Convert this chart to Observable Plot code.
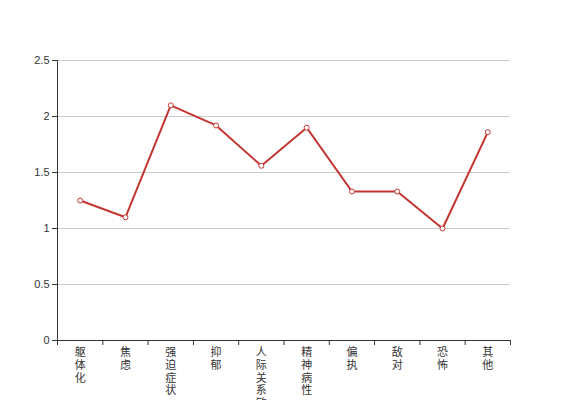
<!DOCTYPE html>
<html>
<head>
<meta charset="utf-8">
<script src="https://cdn.jsdelivr.net/npm/d3@7"></script>
<script src="https://cdn.jsdelivr.net/npm/@observablehq/plot@0.6"></script>
<style>
  html, body { margin: 0; padding: 0; background: #fff; }
  svg { font-family: "Liberation Sans", Arial, sans-serif; }
</style>
</head>
<body>
<div id="chart"></div>
<script>
const categories = ["躯体化", "焦虑", "强迫症状", "抑郁", "人际关系敏感", "精神病性", "偏执", "敌对", "恐怖", "其他"];
const values = [1.25, 1.1, 2.1, 1.92, 1.56, 1.9, 1.33, 1.33, 1.0, 1.86];
const yTicks = [0, 0.5, 1, 1.5, 2, 2.5];

const rows = categories.map((c, i) => ({cat: c, value: values[i], pos: i + 0.5}));
const boundaries = d3.range(categories.length + 1);

const color = "#c23531";

const chart = Plot.plot({
  width: 567,
  height: 400,
  marginLeft: 57,
  marginRight: 57,
  marginTop: 60,
  marginBottom: 60,
  style: {fontFamily: "'Liberation Sans', Arial, sans-serif", background: "#fff", overflow: "visible"},
  x: {domain: [0, categories.length], axis: null},
  y: {domain: [0, 2.5], axis: null},
  marks: [
    Plot.gridY(yTicks.filter(d => d > 0), {stroke: "#ccc", strokeOpacity: 1, strokeWidth: 1}),
    Plot.axisY(yTicks, {label: null, tickSize: 5, tickPadding: 3, fontSize: 11, color: "#333", stroke: "#333", tickFormat: d => String(d)}),
    Plot.ruleX([0], {y1: 0, y2: 2.5, stroke: "#333"}),
    Plot.ruleY([0], {stroke: "#333"}),
    Plot.axisX(boundaries, {label: null, tickSize: 5, tickFormat: () => "", stroke: "#333"}),
    Plot.text(rows, {
      x: "pos", y: 0,
      text: d => Array.from(d.cat).join("\n"),
      lineAnchor: "top", dy: 7, fontSize: 11, lineHeight: 1.15,
      fill: "#333", fontFamily: "'Noto Sans CJK SC', sans-serif"
    }),
    Plot.line(rows, {x: "pos", y: "value", stroke: color, strokeWidth: 2}),
    Plot.dot(rows, {x: "pos", y: "value", r: 2.5, fill: "#fff", stroke: color, strokeWidth: 1})
  ]
});
document.getElementById("chart").appendChild(chart);
</script>
</body>
</html>
